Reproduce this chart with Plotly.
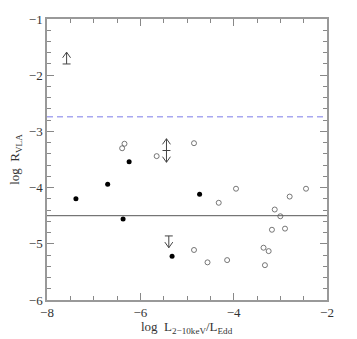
import plotly.graph_objects as go

# filled circles
filled_x = [-7.38, -6.70, -6.37, -6.24, -5.32, -4.73]
filled_y = [-4.20, -3.94, -4.56, -3.54, -5.22, -4.12]

# open circles
open_x = [-6.39, -6.34, -5.65, -4.85, -3.95, -4.32, -2.45, -2.80, -3.12, -3.00,
          -3.18, -2.90, -4.85, -4.56, -4.14, -3.36, -3.25, -3.33]
open_y = [-3.30, -3.22, -3.44, -3.21, -4.02, -4.27, -4.02, -4.16, -4.39, -4.51,
          -4.75, -4.73, -5.11, -5.33, -5.29, -5.07, -5.13, -5.38]

# limits: +1 lower limit (arrow up), -1 upper limit (arrow down), 0 both
lim_x = [-7.58, -5.44, -5.39]
lim_y = [-1.80, -3.34, -4.86]
lim_dir = [1, 0, -1]

ref_dashed = -2.74
ref_solid = -4.5

fig = go.Figure()

# draw limit arrows (bar at value, shaft + open chevron head)
ax_, ay_ = [], []
bw, L, hw, hh = 0.085, 0.21, 0.085, 0.10
for x, y, d in zip(lim_x, lim_y, lim_dir):
    ax_ += [x - bw, x + bw, None]
    ay_ += [y, y, None]
    dirs = [1, -1] if d == 0 else [d]
    for s in dirs:
        tip = y + s * L
        ax_ += [x, x, None, x - hw, x, x + hw, None]
        ay_ += [y, tip, None, tip - s * hh, tip, tip - s * hh, None]
fig.add_trace(go.Scatter(x=ax_, y=ay_, mode="lines",
                         line=dict(color="#444444", width=1), hoverinfo="skip"))

fig.add_trace(go.Scatter(x=open_x, y=open_y, mode="markers",
                         marker=dict(symbol="circle-open", size=5,
                                     color="#555555", line=dict(width=0.8))))
fig.add_trace(go.Scatter(x=filled_x, y=filled_y, mode="markers",
                         marker=dict(symbol="circle", size=5, color="black")))

fig.add_hline(y=ref_dashed, line=dict(color="#a8a8f0", width=1.5, dash="6px,4px"))
fig.add_hline(y=ref_solid, line=dict(color="#555555", width=1))

font = "Liberation Serif, Times New Roman, serif"
axis_common = dict(showgrid=False, zeroline=False, showline=True, linecolor="#999999",
                   linewidth=1.5, mirror="ticks", ticks="inside", ticklen=7,
                   tickcolor="#888888", automargin=False,
                   tickfont=dict(family=font, size=13, color="#333333"))

fig.update_xaxes(range=[-8, -2], dtick=2, tick0=-8,
                 minor=dict(dtick=0.5, ticks="inside", ticklen=4, tickcolor="#888888"),
                 **axis_common)
fig.update_yaxes(range=[-6, -1], dtick=1, tick0=-6,
                 minor=dict(dtick=0.2, ticks="inside", ticklen=4, tickcolor="#888888"),
                 title=dict(text="log  R<sub>VLA</sub>",
                            font=dict(family=font, size=13, color="#333333"), standoff=6),
                 **axis_common)

# x title as a paper annotation so it sits below the tick labels
fig.add_annotation(text="log  L<sub>2−10keV</sub>/L<sub>Edd</sub>",
                   xref="paper", yref="paper", x=0.5, y=0, yanchor="middle",
                   yshift=-27, showarrow=False,
                   font=dict(family=font, size=13, color="#333333"))

fig.update_layout(width=357, height=339, showlegend=False,
                  plot_bgcolor="white", paper_bgcolor="white",
                  margin=dict(l=47, r=30, t=19, b=39))

# drop the page's default body margin so the figure fills the window
fig.write_html("out.html", config={"displayModeBar": False},
               post_script="document.body.style.margin='0';")
